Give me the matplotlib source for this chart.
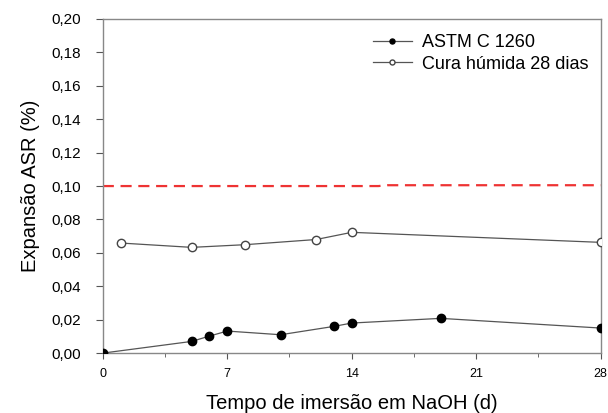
import numpy as np
import matplotlib
matplotlib.use('Agg')
import matplotlib.pyplot as plt
from matplotlib.ticker import FixedLocator, FuncFormatter

# --- Data ---
dias_astm = [0, 5, 6, 7, 10, 13, 14, 19, 28]
exp_astm = [0.0, 0.007, 0.0102, 0.0132, 0.011, 0.016, 0.018, 0.0208, 0.015]

dias_cura = [1, 5, 8, 12, 14, 28]
exp_cura = [0.0659, 0.0633, 0.0649, 0.068, 0.0723, 0.0663]

# limite de expansao (linha tracejada)
lim_x = [0, 15.5, 16, 28]
lim_y = [0.100, 0.100, 0.1005, 0.1005]

plt.rcParams['font.family'] = ['Liberation Sans', 'DejaVu Sans']

fig = plt.figure(figsize=(6.08, 4.13), dpi=100)
ax = fig.add_axes([0.169, 0.145, 0.819, 0.809])

ax.plot(lim_x, lim_y, color='#ee3333', linestyle=(0, (5, 3)), linewidth=1.6, zorder=1)
ax.plot(dias_astm, exp_astm, color='#555555', linewidth=0.9, marker='o',
        markersize=6, markerfacecolor='black', markeredgecolor='black',
        label='ASTM C 1260', zorder=3)
ax.plot(dias_cura, exp_cura, color='#555555', linewidth=0.9, marker='o',
        markersize=6, markerfacecolor='white', markeredgecolor='#444444',
        label='Cura húmida 28 dias', zorder=3)

ax.set_xlim(0, 28)
ax.set_ylim(0, 0.2)
ax.xaxis.set_major_locator(FixedLocator([0, 7, 14, 21, 28]))
ax.xaxis.set_minor_locator(FixedLocator([3.5, 10.5, 17.5, 24.5]))
ax.yaxis.set_major_locator(FixedLocator(np.arange(0, 0.201, 0.02)))
ax.yaxis.set_major_formatter(FuncFormatter(lambda v, p: f'{v:.2f}'.replace('.', ',')))

ax.tick_params(axis='x', which='major', direction='out', length=4, labelsize=9,
               pad=7, color='#555555')
ax.tick_params(axis='x', which='minor', direction='out', length=3, color='#555555')
ax.tick_params(axis='y', direction='out', length=5, labelsize=11, pad=11, color='#555555')

for s in ax.spines.values():
    s.set_color('#888888')
    s.set_linewidth(1.0)

ax.set_xlabel('Tempo de imersão em NaOH (d)', fontsize=14.5, labelpad=9.5)
ax.set_ylabel('Expansão ASR (%)', fontsize=14.5, labelpad=8)

ax.legend(loc='upper left', frameon=False, fontsize=13, handlelength=2.15,
          bbox_to_anchor=(373 / 608, 1 - 34 / 413), bbox_transform=fig.transFigure,
          borderpad=0, borderaxespad=0, labelspacing=0.25, handletextpad=0.55,
          markerscale=0.6)

fig.savefig('out.png', dpi=100)
